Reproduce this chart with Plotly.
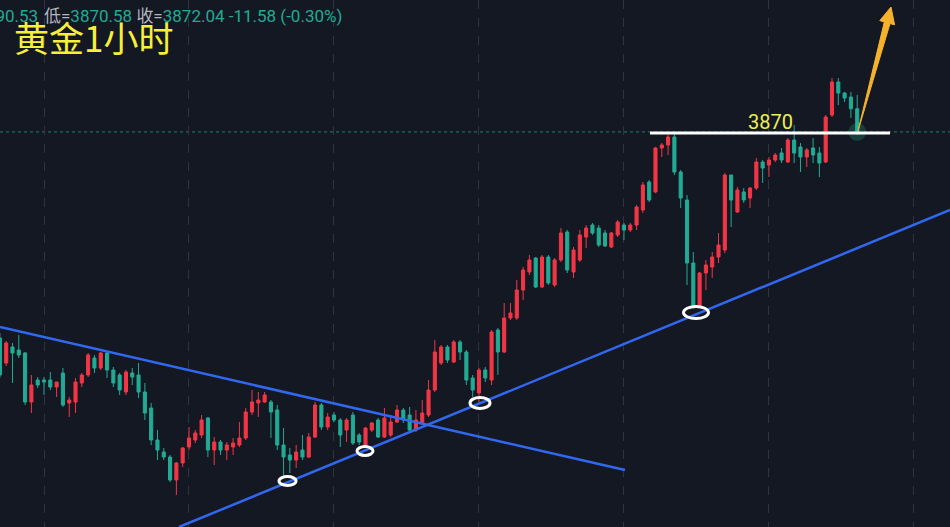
import plotly.graph_objects as go

# ---------------- data (gold, 1-hour candles) ----------------
idx = list(range(137))
opens = [3769, 3756.5, 3764.5, 3763, 3761.5, 3737, 3748, 3748, 3748, 3744.5,
         3751.5, 3736.5, 3737, 3746.5, 3750.5, 3759, 3754, 3761.5, 3753, 3750.5,
         3742, 3751.5, 3750.5, 3742, 3734, 3718, 3712, 3709.5, 3698, 3706.5,
         3714.5, 3718, 3720.5, 3729, 3713, 3717, 3713, 3714.5, 3715.5, 3719,
         3732, 3736.5, 3737, 3737, 3733, 3715.5, 3710.5, 3708, 3713, 3709.5,
         3719.5, 3735.5, 3724.5, 3730.5, 3728, 3723, 3730.5, 3720.5, 3714.5, 3723,
         3728, 3719.5, 3720.5, 3727, 3733, 3730.5, 3723, 3726.5, 3730.5, 3743,
         3756.5, 3764.5, 3757, 3767, 3762, 3749, 3741.5, 3753, 3748, 3773,
         3762, 3779, 3779, 3793, 3802, 3809, 3794.5, 3809.5, 3795.5, 3808,
         3822, 3802, 3808, 3819.5, 3825.5, 3824, 3821.5, 3814.5, 3820.5, 3825.5,
         3823, 3825.5, 3833, 3847, 3842, 3864, 3865.5, 3869.5, 3852, 3838,
         3806.5, 3785.5, 3801.5, 3804.5, 3809.5, 3813, 3850.5, 3832, 3842, 3839,
         3844, 3857, 3855.5, 3858, 3861.5, 3857, 3868, 3864.5, 3859.5, 3864,
         3861.5, 3857, 3880.5, 3897, 3891.5, 3889.5, 3883.62]
highs = [3771.5, 3767.5, 3766.5, 3770.5, 3762, 3750.5, 3749.5, 3749.5, 3752, 3747,
         3754, 3739.5, 3749, 3751.5, 3761.5, 3760.5, 3762, 3762, 3754.5, 3751.5,
         3753, 3754, 3756.5, 3746.5, 3736.5, 3723, 3714, 3710.5, 3707, 3714.5,
         3724.5, 3723, 3730.5, 3729.5, 3719.5, 3718, 3717, 3719, 3727, 3734,
         3743, 3742, 3742, 3738, 3735.5, 3724, 3714, 3715.5, 3720.5, 3721.5,
         3737, 3736.5, 3731.5, 3732, 3729, 3729, 3732, 3721.5, 3724.5, 3727,
         3729, 3734, 3730.5, 3735.5, 3734, 3734.5, 3733, 3738, 3748, 3768,
         3765.5, 3765.5, 3768, 3768, 3763, 3750.5, 3754, 3754.5, 3773, 3774,
         3786.5, 3786.5, 3798, 3804.5, 3810.5, 3809.5, 3810.5, 3810.5, 3809, 3824,
         3823, 3814.5, 3823, 3825.5, 3826.5, 3825.5, 3823, 3822, 3828, 3826.5,
         3826.5, 3835.5, 3847, 3848, 3864.5, 3866.5, 3870.5, 3871.5, 3853, 3840.5,
         3812, 3802, 3808, 3812, 3821.5, 3851.5, 3850.5, 3844.5, 3844, 3844.5,
         3859, 3858, 3859.5, 3861.5, 3864, 3869, 3875.5, 3866.5, 3864, 3869,
         3864.5, 3880.5, 3899, 3899, 3892, 3892, 3890.53]
lows = [3749, 3755, 3746.5, 3759, 3735.5, 3731.5, 3744, 3740.5, 3743, 3739.5,
        3734.5, 3729.5, 3731.5, 3744.5, 3749.5, 3751.5, 3753, 3749, 3744.5, 3740.5,
        3740.5, 3745.5, 3739, 3728, 3715.5, 3708, 3708, 3697, 3690.5, 3704.5,
        3713, 3716.5, 3719, 3709.5, 3705.5, 3710.5, 3708, 3710.5, 3714.5, 3718,
        3730.5, 3729.5, 3736.5, 3719, 3713, 3700.5, 3701.5, 3704, 3708, 3709,
        3719, 3723, 3723, 3727, 3714.5, 3717, 3715.5, 3715.5, 3714, 3722,
        3719, 3719, 3719.5, 3726.5, 3726.5, 3722, 3722, 3725.5, 3729.5, 3742,
        3755.5, 3756.5, 3756.5, 3758, 3745.5, 3739.5, 3737, 3747, 3745.5, 3750.5,
        3761.5, 3778, 3778, 3788, 3800.5, 3794, 3794, 3795.5, 3794.5, 3807,
        3801.5, 3799, 3807, 3814, 3820.5, 3814.5, 3814.5, 3814, 3819.5, 3818,
        3822, 3823, 3831.5, 3837, 3841.5, 3859.5, 3860.5, 3850.5, 3834, 3795.5,
        3784, 3784.5, 3793, 3799, 3806.5, 3811.5, 3824.5, 3831.5, 3836.5, 3834,
        3843, 3846.5, 3849.5, 3857, 3856.5, 3856.5, 3856.5, 3852, 3854.5, 3856.5,
        3849.5, 3856.5, 3879.5, 3885.5, 3887, 3879, 3870.58]
closes = [3750.5, 3766.5, 3761.5, 3760.5, 3737, 3745.5, 3745.5, 3747, 3744.5, 3747,
          3735.5, 3738, 3747, 3750.5, 3760.5, 3754, 3761.5, 3753, 3746.5, 3743,
          3752, 3749.5, 3742, 3731.5, 3718, 3713, 3709.5, 3698, 3706.5, 3714,
          3719, 3721.5, 3728, 3713, 3717, 3713, 3715.5, 3716.5, 3719, 3732,
          3737, 3738, 3740.5, 3732, 3715.5, 3709.5, 3708, 3712, 3709.5, 3719.5,
          3735.5, 3724.5, 3729.5, 3728, 3720.5, 3728, 3716.5, 3717, 3724, 3726.5,
          3719.5, 3729, 3727, 3733, 3728, 3723, 3728, 3731.5, 3743, 3762,
          3764.5, 3758, 3767, 3762, 3748, 3743, 3753, 3749, 3772, 3762,
          3779, 3781.5, 3793, 3803, 3808, 3794.5, 3809.5, 3796.5, 3808, 3821.5,
          3803, 3813, 3820.5, 3824, 3821.5, 3815.5, 3815, 3821.5, 3827, 3823,
          3825.5, 3834.5, 3845.5, 3838, 3864, 3865.5, 3869.5, 3852, 3839, 3806.5,
          3785.5, 3801.5, 3805.5, 3809.5, 3815.5, 3850.5, 3838, 3843, 3838, 3844,
          3857, 3854, 3858, 3860.5, 3858, 3868, 3861.5, 3859.5, 3863, 3860.5,
          3856.5, 3879.5, 3897, 3891.5, 3889, 3883.62, 3872.04]

day_ticks = [7, 30, 53, 76, 99, 122, 145]

legend_high = "3890.53"
legend_low = "3870.58"
legend_close = "3872.04"
legend_change = "-11.58 (-0.30%)"
title_text = "黄金1小时"
level_text = "3870"

# ---------------- styling ----------------
W, H = 950, 527
BG = "#141823"
UP = "#f23645"
DOWN = "#22ab94"
BLUE = "#3168f0"


def px(x):
    return x / W


def py(y):
    return 1 - y / H


fig = go.Figure()
fig.add_trace(go.Candlestick(
    x=idx, open=opens, high=highs, low=lows, close=closes,
    increasing=dict(line=dict(color=UP, width=1), fillcolor=UP),
    decreasing=dict(line=dict(color=DOWN, width=1), fillcolor=DOWN),
    whiskerwidth=0, hoverinfo="skip", showlegend=False,
))

# glow on last candle
fig.add_trace(go.Scatter(
    x=[idx[-1]], y=[closes[-1]], mode="markers",
    marker=dict(size=18, color="rgba(40,200,170,0.22)", line=dict(width=0)),
    hoverinfo="skip", showlegend=False,
))

shapes = []
# current price dotted line
shapes.append(dict(type="line", xref="paper", yref="y", x0=0, x1=1,
                   y0=closes[-1], y1=closes[-1],
                   line=dict(color="#1d7f73", width=1, dash="dot"), layer="below"))
# descending trend line
shapes.append(dict(type="line", xref="paper", yref="paper",
                   x0=px(0), y0=py(327), x1=px(625), y1=py(470),
                   line=dict(color=BLUE, width=2.5)))
# ascending trend line
shapes.append(dict(type="line", xref="paper", yref="paper",
                   x0=px(179), y0=py(527), x1=px(950), y1=py(210),
                   line=dict(color=BLUE, width=2.5)))
# resistance white line
shapes.append(dict(type="line", xref="paper", yref="paper",
                   x0=px(650), y0=py(133), x1=px(890), y1=py(133),
                   line=dict(color="white", width=3)))
# ellipses marking touch points
for cx, cy, w, h in [(287.5, 481, 17, 9), (365, 451, 16, 9),
                     (480, 403, 20, 11), (696, 312.5, 25, 12)]:
    shapes.append(dict(type="circle", xref="paper", yref="paper",
                       x0=px(cx - w / 2), x1=px(cx + w / 2),
                       y0=py(cy - h / 2), y1=py(cy + h / 2),
                       line=dict(color="white", width=3)))
# orange arrow (tapered)
tail = (858, 131)
tip = (891, 7)
shaftL, shaftR = (884.3, 22.0), (890.0, 23.6)
headL, headR = (879.8, 20.6), (894.6, 24.8)
path = "M {},{} L {},{} L {},{} L {},{} L {},{} L {},{} Z".format(
    px(tail[0]), py(tail[1]), px(shaftL[0]), py(shaftL[1]),
    px(headL[0]), py(headL[1]), px(tip[0]), py(tip[1]),
    px(headR[0]), py(headR[1]), px(shaftR[0]), py(shaftR[1]))
shapes.append(dict(type="path", xref="paper", yref="paper", path=path,
                   fillcolor="#f6b22c", line=dict(color="#f6b22c", width=1)))

annotations = [
    dict(xref="paper", yref="paper", x=px(40), y=py(16), xanchor="right",
         yanchor="middle", showarrow=False,
         text=f"<span style='color:#b2b5be'>高=</span>{legend_high}",
         font=dict(family="Roboto, 'Noto Sans CJK SC'", size=17, color="#22ab94")),
    dict(xref="paper", yref="paper", x=px(42), y=py(16), xanchor="left",
         yanchor="middle", showarrow=False,
         text=(f"<span style='color:#b2b5be'>低=</span>{legend_low} "
               f"<span style='color:#b2b5be'>收=</span>{legend_close} {legend_change}"),
         font=dict(family="Roboto, 'Noto Sans CJK SC'", size=17, color="#22ab94")),
    dict(xref="paper", yref="paper", x=px(12), y=py(37), xanchor="left",
         yanchor="middle", showarrow=False, text=title_text,
         font=dict(family="'Noto Sans CJK SC'", size=35, color="#f7f03a")),
    dict(xref="paper", yref="paper", x=px(770), y=py(122), xanchor="center",
         yanchor="middle", showarrow=False, text=level_text,
         font=dict(family="Roboto, Arial", size=20, color="#eeee55")),
]

fig.update_layout(
    width=W, height=H,
    margin=dict(l=0, r=0, t=0, b=0),
    paper_bgcolor=BG, plot_bgcolor=BG,
    shapes=shapes, annotations=annotations,
    showlegend=False,
    xaxis=dict(range=[0.02, 150.72], tickvals=day_ticks, showticklabels=False,
               showgrid=True, gridcolor="#30343f", griddash="dash", gridwidth=1,
               zeroline=False, showline=False, ticks="",
               rangeslider=dict(visible=False)),
    yaxis=dict(range=[3674.5, 3938], showgrid=False, showticklabels=False,
               zeroline=False, showline=False, ticks=""),
)

fig.write_html("out.html", config={"displayModeBar": False},
               post_script="document.body.style.margin='0';document.body.style.overflow='hidden';")
